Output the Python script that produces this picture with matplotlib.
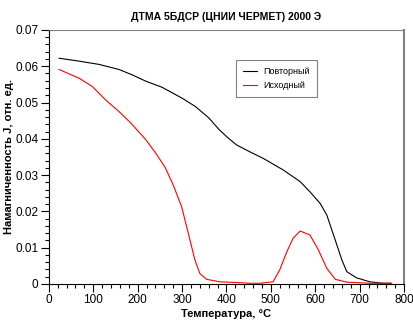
import numpy as np
import matplotlib.pyplot as plt
from matplotlib.ticker import MultipleLocator

plt.rcParams['font.family'] = ['Liberation Sans', 'DejaVu Sans']

# Повторный (black) - temperature, magnetization
t_rep = [23, 68, 113, 158, 188, 218, 255, 300, 330, 360, 383, 405, 423, 453, 483,
         528, 566, 588, 611, 626, 645, 660, 671, 693, 723, 753, 770]
j_rep = [0.0622, 0.0614, 0.0605, 0.0591, 0.0576, 0.0559, 0.0542, 0.0512, 0.0489,
         0.0458, 0.0426, 0.0401, 0.0383, 0.0364, 0.0346, 0.0314, 0.0282, 0.0254,
         0.0222, 0.0190, 0.0121, 0.0066, 0.0034, 0.0017, 0.0006, 0.0002, 0.0002]

# Исходный (red)
t_src = [23, 68, 98, 128, 158, 185, 218, 241, 262, 280, 299, 314, 329, 340, 355,
         385, 423, 453, 475, 505, 520, 536, 550, 566, 588, 607, 626, 645, 671, 723, 772]
j_src = [0.0591, 0.0567, 0.0544, 0.0507, 0.0475, 0.0443, 0.0398, 0.0360, 0.0321,
         0.0273, 0.0213, 0.0140, 0.0066, 0.0029, 0.0013, 0.0006, 0.0004, 0.0002,
         0.0002, 0.0006, 0.0039, 0.0089, 0.0126, 0.0146, 0.0135, 0.0094, 0.0043,
         0.0013, 0.0005, 0.0002, 0.0002]

fig = plt.figure(figsize=(4.14, 3.2), dpi=100)
ax = fig.add_axes([0.118, 0.1125, 0.858, 0.794])

ax.plot(t_rep, j_rep, color='black', lw=0.8, label='Повторный')
ax.plot(t_src, j_src, color='red', lw=0.8, label='Исходный')

ax.set_xlim(0, 800)
ax.set_ylim(0, 0.07)
ax.xaxis.set_major_locator(MultipleLocator(100))
ax.xaxis.set_minor_locator(MultipleLocator(20))
ax.yaxis.set_minor_locator(MultipleLocator(0.002))
ax.set_yticks([0, 0.01, 0.02, 0.03, 0.04, 0.05, 0.06, 0.07])
ax.set_yticklabels(['0', '0.01', '0.02', '0.03', '0.04', '0.05', '0.06', '0.07'])
ax.tick_params(which='major', direction='out', length=6, width=0.8, pad=1.5,
               labelsize=8.5)
ax.tick_params(which='minor', direction='out', length=3, width=0.8)

ax.spines['right'].set_color('gray')
ax.spines['right'].set_linewidth(1.5)
ax.spines['top'].set_color('gray')

ax.set_title('ДТМА 5БДСР (ЦНИИ ЧЕРМЕТ) 2000 Э', fontsize=7.5, fontweight='bold', pad=7)
ax.set_xlabel('Температура, °C', fontsize=8, fontweight='bold', labelpad=2)
ax.set_ylabel('Намагниченность J, отн. ед.', fontsize=8, fontweight='bold')
ax.yaxis.set_label_coords(-0.097, 0.5)

leg = ax.legend(loc='upper left', bbox_to_anchor=(0.513, 0.9), fontsize=6.5,
                fancybox=False, framealpha=1, edgecolor='gray', handlelength=1.6,
                handletextpad=0.7, borderpad=0.8, labelspacing=0.55)
leg.get_frame().set_linewidth(0.8)

fig.savefig('out.png', dpi=100)
